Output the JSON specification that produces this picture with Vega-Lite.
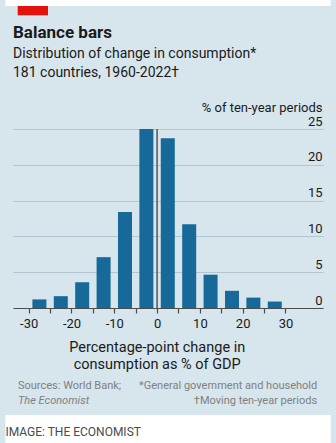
{
  "$schema": "https://vega.github.io/schema/vega-lite/v6.json",
  "autosize": {"type": "none"},
  "width": 310,
  "height": 179,
  "padding": {"left": 13, "top": 129, "right": 13, "bottom": 135},
  "background": "#d7e5ed",
  "config": {
    "view": {"stroke": null},
    "font": "Roboto"
  },
  "resolve": {"axis": {"x": "independent", "y": "independent"}},
  "title": {
    "text": "Balance bars",
    "subtitle": ["Distribution of change in consumption*", "181 countries, 1960-2022†"],
    "anchor": "start",
    "frame": "group",
    "orient": "top",
    "offset": -82,
    "font": "Roboto",
    "fontSize": 17,
    "fontWeight": "bold",
    "color": "#1a1a1a",
    "subtitleFont": "Roboto",
    "subtitleFontSize": 14,
    "subtitleColor": "#1a1a1a",
    "subtitleLineHeight": 19.5,
    "subtitlePadding": 5
  },
  "layer": [
    {
      "data": {"values": [
        {"change": -27.5, "share": 1.2},
        {"change": -22.5, "share": 1.65},
        {"change": -17.5, "share": 3.6},
        {"change": -12.5, "share": 7.1},
        {"change": -7.5, "share": 13.4},
        {"change": -2.5, "share": 25.0},
        {"change": 2.5, "share": 23.7},
        {"change": 7.5, "share": 11.7},
        {"change": 12.5, "share": 4.65},
        {"change": 17.5, "share": 2.4},
        {"change": 22.5, "share": 1.45},
        {"change": 27.5, "share": 0.9}
      ]},
      "mark": {"type": "bar", "width": 14, "color": "#17699a"},
      "encoding": {
        "x": {
          "field": "change",
          "type": "quantitative",
          "scale": {"domain": [-32.5, 37.6], "nice": false, "zero": false},
          "axis": {
            "values": [-30, -25, -20, -15, -10, -5, 0, 5, 10, 15, 20, 25, 30],
            "labelExpr": "datum.value % 10 == 0 ? '' + datum.value : ''",
            "labelOverlap": false,
            "grid": false,
            "domainColor": "#4d4d4d",
            "domainWidth": 1.2,
            "tickColor": "#4d4d4d",
            "tickSize": 5,
            "tickWidth": 1.2,
            "labelFont": "Roboto",
            "labelFontSize": 13,
            "labelColor": "#1a1a1a",
            "labelPadding": 4,
            "labelFlush": false,
            "title": ["Percentage-point change in", "consumption as % of GDP"],
            "titleFont": "Roboto",
            "titleFontSize": 14.5,
            "titleFontWeight": "normal",
            "titleColor": "#1a1a1a",
            "titleAlign": "center",
            "titleAnchor": "start",
            "titleBaseline": "alphabetic",
            "titleLineHeight": 17,
            "titleX": 143.7,
            "titleY": 43
          }
        },
        "y": {
          "field": "share",
          "type": "quantitative",
          "scale": {"domain": [0, 25], "nice": false},
          "axis": {
            "orient": "right",
            "values": [0, 5, 10, 15, 20, 25],
            "grid": true,
            "gridColor": "#b3c5cf",
            "gridWidth": 1,
            "domain": false,
            "ticks": false,
            "labelOverlap": false,
            "labelAlign": "right",
            "labelBaseline": "alphabetic",
            "labelPadding": -1,
            "labelOffset": -4,
            "labelFont": "Roboto",
            "labelFontSize": 13,
            "labelColor": "#1a1a1a",
            "title": "% of ten-year periods",
            "titleAngle": 0,
            "titleAlign": "right",
            "titleAnchor": "start",
            "titleBaseline": "alphabetic",
            "titleX": -1,
            "titleY": -18,
            "titleFont": "Roboto",
            "titleFontSize": 13,
            "titleFontWeight": "normal",
            "titleColor": "#1a1a1a"
          }
        }
      }
    },
    {
      "data": {"values": [{}]},
      "mark": {"type": "rect", "color": "white"},
      "encoding": {
        "x": {"datum": -35.44, "type": "quantitative", "axis": null},
        "x2": {"datum": 40.58},
        "y": {"datum": 43.1, "type": "quantitative", "axis": null},
        "y2": {"datum": 42.18}
      }
    },
    {
      "data": {"values": [{}]},
      "mark": {"type": "rect", "color": "white"},
      "encoding": {
        "x": {"datum": -35.44, "type": "quantitative", "axis": null},
        "x2": {"datum": 40.58},
        "y": {"datum": -14.94, "type": "quantitative", "axis": null},
        "y2": {"datum": -18.9}
      }
    },
    {
      "data": {"values": [{}]},
      "mark": {"type": "rect", "color": "#e3120b"},
      "encoding": {
        "x": {"datum": -32.57, "type": "quantitative", "axis": null},
        "x2": {"datum": -25.49},
        "y": {"datum": 42.18, "type": "quantitative", "axis": null},
        "y2": {"datum": 40.88}
      }
    },
    {
      "data": {"values": [{}]},
      "mark": {"type": "rule", "color": "#555555", "strokeWidth": 1.5},
      "encoding": {
        "x": {"datum": 0, "type": "quantitative", "axis": null},
        "y": {"datum": 0, "type": "quantitative", "axis": null},
        "y2": {"datum": 25}
      }
    },
    {
      "data": {"values": [{"note": "Sources: World Bank;"}]},
      "mark": {"type": "text", "align": "left", "baseline": "alphabetic", "font": "Roboto", "fontSize": 11, "color": "#808080"},
      "encoding": {
        "x": {"datum": -32.5, "type": "quantitative", "axis": null},
        "y": {"datum": -11.31, "type": "quantitative", "axis": null},
        "text": {"field": "note"}
      }
    },
    {
      "data": {"values": [{"note": "The Economist"}]},
      "mark": {"type": "text", "align": "left", "baseline": "alphabetic", "font": "Roboto", "fontSize": 11, "fontStyle": "italic", "color": "#808080"},
      "encoding": {
        "x": {"datum": -32.5, "type": "quantitative", "axis": null},
        "y": {"datum": -13.41, "type": "quantitative", "axis": null},
        "text": {"field": "note"}
      }
    },
    {
      "data": {"values": [{"note": "*General government and household"}]},
      "mark": {"type": "text", "align": "right", "baseline": "alphabetic", "font": "Roboto", "fontSize": 11, "color": "#808080"},
      "encoding": {
        "x": {"datum": 37.41, "type": "quantitative", "axis": null},
        "y": {"datum": -11.31, "type": "quantitative", "axis": null},
        "text": {"field": "note"}
      }
    },
    {
      "data": {"values": [{"note": "†Moving ten-year periods"}]},
      "mark": {"type": "text", "align": "right", "baseline": "alphabetic", "font": "Roboto", "fontSize": 11, "color": "#808080"},
      "encoding": {
        "x": {"datum": 37.41, "type": "quantitative", "axis": null},
        "y": {"datum": -13.41, "type": "quantitative", "axis": null},
        "text": {"field": "note"}
      }
    },
    {
      "data": {"values": [{"note": "IMAGE: THE ECONOMIST"}]},
      "mark": {"type": "text", "align": "left", "baseline": "alphabetic", "font": "Roboto", "fontSize": 12, "color": "#4a4a4a"},
      "encoding": {
        "x": {"datum": -35.44, "type": "quantitative", "axis": null},
        "y": {"datum": -17.88, "type": "quantitative", "axis": null},
        "text": {"field": "note"}
      }
    }
  ]
}
